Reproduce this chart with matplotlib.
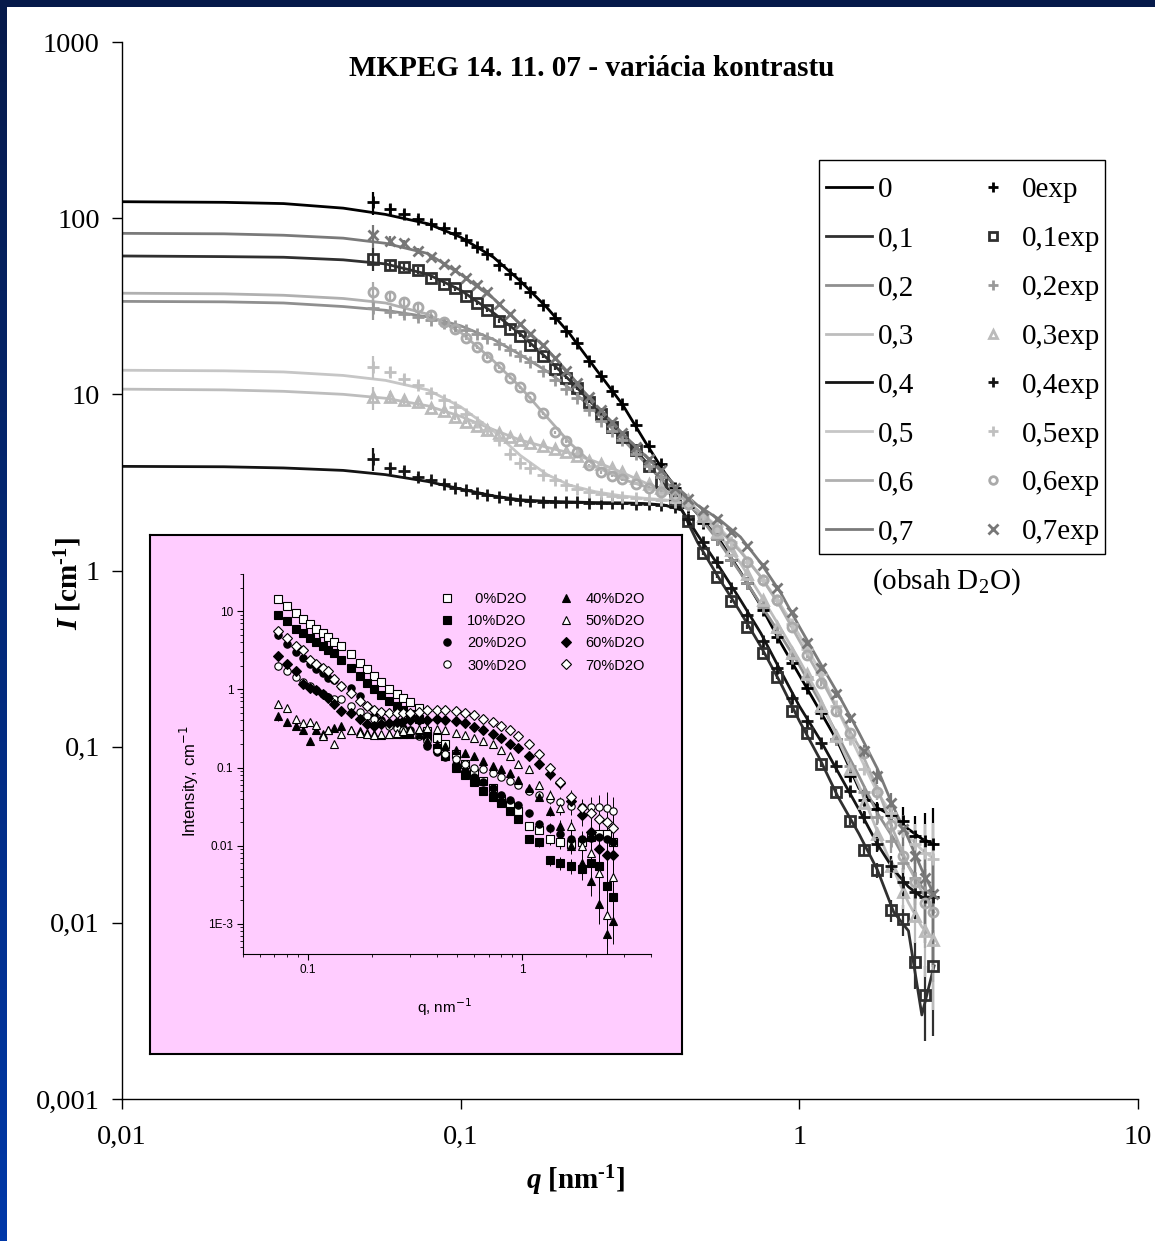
import numpy as np
import matplotlib
matplotlib.use('Agg')
import matplotlib.pyplot as plt
from matplotlib.lines import Line2D
from matplotlib.patches import Rectangle
from matplotlib.colors import LinearSegmentedColormap

plt.rcParams['font.family'] = ['Liberation Serif', 'DejaVu Serif']
plt.rcParams['mathtext.fontset'] = 'custom'
plt.rcParams['mathtext.rm'] = 'Liberation Serif'
plt.rcParams['mathtext.it'] = 'Liberation Serif:italic'
plt.rcParams['mathtext.bf'] = 'Liberation Serif:bold'
plt.rcParams['mathtext.bfit'] = 'Liberation Serif:italic:bold'

# ---------------- main chart data ----------------
series_names = ['0', '0,1', '0,2', '0,3', '0,4', '0,5', '0,6', '0,7']

q_fit = [0.01, 0.02, 0.03, 0.045, 0.06, 0.08, 0.1, 0.125, 0.15, 0.18, 0.21, 0.25, 0.3, 0.35, 0.4,
         0.45, 0.5, 0.58, 0.67, 0.77, 0.88, 1.0, 1.15, 1.3, 1.5, 1.7, 1.9, 2.1, 2.3, 2.5]

fit_0 = [124, 123, 121, 114, 105, 93, 78, 60, 44, 31, 22, 14, 8.8, 5.4, 3.6,
         2.65, 2.1, 1.5, 0.98, 0.63, 0.39, 0.255, 0.16, 0.106, 0.058, 0.045, 0.04, 0.034, 0.03, 0.028]
fit_01 = [61, 60.5, 60, 58, 55, 48, 39, 29, 22, 16, 12, 8.5, 5.8, 4.2, 3.1,
          2.2, 1.45, 0.9, 0.58, 0.37, 0.23, 0.14, 0.085, 0.052, 0.032, 0.02, 0.0115, 0.009, 0.003, 0.0057]
fit_02 = [33.7, 33.5, 33, 31.5, 30, 27.5, 24.5, 20.5, 16.8, 13.5, 10.8, 8.0, 5.6, 4.1, 3.2,
          2.65, 2.1, 1.45, 0.97, 0.64, 0.43, 0.29, 0.18, 0.115, 0.068, 0.042, 0.03, 0.021, 0.016, 0.014]
fit_03 = [10.7, 10.6, 10.4, 10.0, 9.5, 8.6, 7.5, 6.3, 5.5, 5.0, 4.65, 4.15, 3.6, 3.15, 2.85,
          2.6, 2.2, 1.6, 1.1, 0.72, 0.47, 0.31, 0.19, 0.11, 0.06, 0.033, 0.02, 0.013, 0.0095, 0.008]
fit_04 = [3.9, 3.88, 3.82, 3.7, 3.5, 3.2, 2.9, 2.65, 2.52, 2.47, 2.45, 2.43, 2.42, 2.4, 2.35,
          2.2, 1.6, 1.05, 0.68, 0.44, 0.27, 0.17, 0.11, 0.072, 0.044, 0.028, 0.02, 0.016, 0.014, 0.014]
fit_05 = [13.7, 13.6, 13.4, 12.8, 12, 10.6, 8.5, 6.2, 4.5, 3.5, 3.05, 2.8, 2.65, 2.57, 2.52,
          2.45, 2.2, 1.75, 1.3, 0.92, 0.64, 0.43, 0.27, 0.16, 0.09, 0.055, 0.04, 0.031, 0.026, 0.023]
fit_06 = [37.5, 37.2, 36.5, 35, 33, 28.5, 22.5, 15.5, 11, 7.4, 5.3, 3.9, 3.3, 3.0, 2.8,
          2.6, 2.2, 1.7, 1.28, 0.92, 0.62, 0.4, 0.25, 0.16, 0.1, 0.058, 0.033, 0.021, 0.015, 0.0115]
fit_07 = [82, 81.5, 80, 77, 72, 63, 48, 35, 25, 18, 13, 8.6, 6.0, 4.5, 3.5,
          2.8, 2.35, 1.95, 1.55, 1.1, 0.75, 0.48, 0.3, 0.2, 0.12, 0.075, 0.045, 0.03, 0.02, 0.0145]

q_exp = [0.055, 0.062, 0.068, 0.075, 0.082, 0.089, 0.096, 0.104, 0.112, 0.12,
         0.13, 0.14, 0.15, 0.16, 0.175, 0.19, 0.205, 0.22, 0.24, 0.26,
         0.28, 0.30, 0.33, 0.36, 0.39, 0.43, 0.47, 0.52, 0.57, 0.63,
         0.70, 0.78, 0.86, 0.95, 1.05, 1.16, 1.28, 1.41, 1.55, 1.70,
         1.86, 2.03, 2.2, 2.35, 2.48]

exp_0 = [123, 113, 106, 99, 93, 88, 82, 75, 69, 63,
         54, 48, 43, 38, 32, 27, 23, 19.5, 15.5, 12.7,
         10.5, 8.8, 6.7, 5.1, 4.0, 2.95, 2.3, 1.85, 1.5, 1.15,
         0.85, 0.6, 0.42, 0.3, 0.215, 0.155, 0.11, 0.068, 0.05, 0.044,
         0.041, 0.038, 0.031, 0.029, 0.028]
exp_01 = [59, 54, 53, 50.5, 46, 42.5, 40, 36, 33, 30,
          26, 23.5, 21.5, 19, 16.5, 14, 12.4, 10.8, 9.1, 7.7,
          6.5, 5.7, 4.8, 3.9, 3.2, 2.5, 1.9, 1.25, 0.92, 0.67,
          0.48, 0.34, 0.25, 0.16, 0.12, 0.08, 0.055, 0.038, 0.026, 0.02,
          0.0118, 0.0105, 0.006, 0.0039, 0.0057]
exp_02 = [31, 29.5, 28.5, 27.5, 26.5, 25.5, 24.5, 23.2, 22, 20.8,
          19.2, 17.8, 16.5, 15.2, 13.5, 12, 10.7, 9.5, 8.2, 7.1,
          6.2, 5.5, 4.6, 3.9, 3.4, 2.85, 2.4, 1.9, 1.5, 1.15,
          0.85, 0.62, 0.45, 0.32, 0.25, 0.16, 0.11, 0.078, 0.055, 0.04,
          0.029, 0.022, 0.018, 0.015, 0.014]
exp_03 = [9.6, 9.7, 9.3, 9.0, 8.4, 8.0, 7.4, 7.0, 6.6, 6.3,
          6.0, 5.7, 5.5, 5.3, 5.1, 4.9, 4.7, 4.45, 4.2, 4.0,
          3.8, 3.6, 3.35, 3.1, 2.95, 2.75, 2.5, 2.05, 1.65, 1.3,
          0.95, 0.68, 0.48, 0.34, 0.26, 0.17, 0.115, 0.075, 0.048, 0.032,
          0.021, 0.015, 0.011, 0.009, 0.008]
exp_04 = [4.3, 3.8, 3.65, 3.4, 3.25, 3.1, 2.95, 2.85, 2.75, 2.68,
          2.6, 2.55, 2.5, 2.48, 2.46, 2.45, 2.44, 2.44, 2.43, 2.42,
          2.42, 2.41, 2.4, 2.38, 2.35, 2.3, 1.95, 1.45, 1.12, 0.8,
          0.56, 0.4, 0.28, 0.19, 0.14, 0.105, 0.078, 0.056, 0.04, 0.028,
          0.021, 0.017, 0.015, 0.014, 0.014]
exp_05 = [14.3, 13.4, 12.2, 11.3, 10.2, 9.3, 8.5, 7.7, 7.0, 6.3,
          5.5, 4.6, 4.1, 3.8, 3.5, 3.25, 3.05, 2.9, 2.8, 2.72,
          2.66, 2.62, 2.58, 2.55, 2.52, 2.45, 2.35, 2.1, 1.8, 1.45,
          1.12, 0.88, 0.68, 0.5, 0.36, 0.26, 0.17, 0.11, 0.075, 0.055,
          0.042, 0.033, 0.028, 0.025, 0.023]
exp_06 = [38, 36.3, 33.5, 31.3, 28.2, 25.7, 23.5, 21, 18.5, 16.3,
          14.3, 12.4, 11, 9.6, 7.8, 6.1, 5.4, 4.7, 3.95, 3.6,
          3.45, 3.3, 3.1, 2.95, 2.8, 2.65, 2.4, 2.0, 1.7, 1.42,
          1.12, 0.88, 0.68, 0.48, 0.33, 0.23, 0.16, 0.12, 0.092, 0.055,
          0.036, 0.024, 0.017, 0.013, 0.0115]
exp_07 = [80, 74.5, 72, 65, 60, 55, 50.5, 45.5, 41.5, 38,
          32.5, 28.5, 25, 22, 19, 16, 13.6, 11.6, 9.6, 8.1,
          7.0, 6.0, 5.0, 4.3, 3.7, 2.95, 2.55, 2.2, 1.95, 1.65,
          1.38, 1.07, 0.8, 0.58, 0.39, 0.28, 0.2, 0.145, 0.095, 0.068,
          0.048, 0.034, 0.024, 0.018, 0.0145]

# relative error of the measured points
rel_err = [0.15, 0.07, 0.05, 0.04, 0.035, 0.03, 0.03, 0.03, 0.025, 0.025,
           0.025, 0.02, 0.02, 0.02, 0.02, 0.02, 0.02, 0.02, 0.02, 0.02,
           0.02, 0.02, 0.02, 0.02, 0.02, 0.02, 0.02, 0.02, 0.02, 0.02,
           0.025, 0.025, 0.03, 0.03, 0.035, 0.04, 0.05, 0.06, 0.08, 0.1,
           0.14, 0.2, 0.3, 0.45, 0.6]

fits = [fit_0, fit_01, fit_02, fit_03, fit_04, fit_05, fit_06, fit_07]
exps = [exp_0, exp_01, exp_02, exp_03, exp_04, exp_05, exp_06, exp_07]

line_colors = ['#000000', '#303030', '#8f8f8f', '#bdbdbd', '#141414', '#c6c6c6', '#b0b0b0', '#7a7a7a']
mark_colors = ['#000000', '#303030', '#999999', '#bbbbbb', '#141414', '#c0c0c0', '#aaaaaa', '#777777']
markers = ['+', 's', '+', '^', '+', '+', 'o', 'x']

# ---------------- inset data ----------------
inset_labels = ['\u20070%D2O', '10%D2O', '20%D2O', '30%D2O', '40%D2O', '50%D2O', '60%D2O', '70%D2O']
q_in = [0.073, 0.08, 0.088, 0.095, 0.103, 0.11, 0.118, 0.125, 0.133, 0.143,
        0.16, 0.175, 0.19, 0.205, 0.22, 0.24, 0.26, 0.28, 0.30, 0.33,
        0.36, 0.40, 0.44, 0.49, 0.54, 0.6, 0.66, 0.73, 0.8, 0.88, 0.96,
        1.08, 1.2, 1.35, 1.5, 1.7, 1.9, 2.1, 2.3, 2.5, 2.65]
in_0 = [14.4, 11.6, 9.5, 8.0, 6.9, 6.0, 5.2, 4.7, 4.1, 3.6,
        2.85, 2.2, 1.85, 1.5, 1.25, 1.0, 0.88, 0.78, 0.68, 0.58,
        0.29, 0.24, 0.2, 0.15, 0.11, 0.085, 0.068, 0.055, 0.04, 0.033, 0.028,
        0.018, 0.016, 0.012, 0.011, 0.0105, 0.011, 0.013, 0.014, 0.014, 0.011]
in_10 = [9.0, 7.6, 6.0, 5.3, 4.6, 4.0, 3.6, 3.2, 2.9, 2.4,
         1.9, 1.5, 1.2, 1.0, 0.85, 0.72, 0.62, 0.55, 0.48, 0.42,
         0.25, 0.18, 0.14, 0.1, 0.08, 0.065, 0.05, 0.042, 0.035, 0.028, 0.022,
         0.012, 0.011, 0.0065, 0.006, 0.0055, 0.005, 0.006, 0.0055, 0.003, 0.0022]
in_20 = [5.0, 3.8, 3.0, 2.5, 2.1, 1.8, 1.6, 1.4, 1.3, 1.1,
         1.05, 0.82, 0.62, 0.46, 0.4, 0.36, 0.34, 0.32, 0.3, 0.28,
         0.19, 0.16, 0.135, 0.11, 0.091, 0.075, 0.065, 0.055, 0.045, 0.038, 0.033,
         0.026, 0.019, 0.017, 0.014, 0.012, 0.012, 0.0125, 0.013, 0.012, 0.011]
in_30 = [2.0, 1.7, 1.45, 1.25, 1.1, 0.97, 0.88, 0.8, 0.76, 0.75,
         0.62, 0.52, 0.45, 0.42, 0.38, 0.34, 0.32, 0.3, 0.28, 0.25,
         0.22, 0.17, 0.15, 0.13, 0.11, 0.1, 0.095, 0.085, 0.075, 0.068, 0.06,
         0.05, 0.045, 0.04, 0.036, 0.032, 0.031, 0.031, 0.031, 0.03, 0.028]
in_40 = [0.45, 0.38, 0.34, 0.3, 0.22, 0.3, 0.27, 0.3, 0.32, 0.34,
         0.3, 0.29, 0.28, 0.27, 0.26, 0.27, 0.27, 0.27, 0.27, 0.27,
         0.22, 0.2, 0.19, 0.17, 0.155, 0.14, 0.12, 0.105, 0.095, 0.085, 0.07,
         0.055, 0.042, 0.028, 0.018, 0.01, 0.006, 0.0035, 0.0018, 0.00075, 0.0011]
in_50 = [0.65, 0.57, 0.42, 0.37, 0.38, 0.35, 0.25, 0.3, 0.2, 0.27,
         0.3, 0.28, 0.27, 0.26, 0.27, 0.27, 0.28, 0.29, 0.3, 0.31,
         0.32, 0.31, 0.3, 0.28, 0.26, 0.24, 0.22, 0.2, 0.17, 0.14, 0.11,
         0.095, 0.06, 0.045, 0.03, 0.018, 0.01, 0.008, 0.0045, 0.0013, 0.004]
in_60 = [2.7, 2.1, 1.7, 1.16, 1.05, 0.98, 0.88, 0.78, 0.65, 0.53,
         0.5, 0.42, 0.36, 0.34, 0.36, 0.37, 0.38, 0.39, 0.4, 0.4,
         0.41, 0.42, 0.41, 0.39, 0.37, 0.33, 0.3, 0.27, 0.24, 0.2, 0.18,
         0.14, 0.11, 0.082, 0.064, 0.037, 0.025, 0.015, 0.009, 0.0075, 0.0075]
in_70 = [5.6, 4.6, 3.6, 3.2, 2.4, 2.1, 1.9, 1.7, 1.35, 1.1,
         0.9, 0.7, 0.62, 0.55, 0.52, 0.5, 0.5, 0.5, 0.5, 0.52,
         0.55, 0.55, 0.55, 0.53, 0.5, 0.47, 0.42, 0.38, 0.34, 0.3, 0.25,
         0.2, 0.15, 0.1, 0.065, 0.042, 0.03, 0.026, 0.022, 0.02, 0.017]
in_rel_err = [0.12, 0.08, 0.08, 0.06, 0.06, 0.06, 0.06, 0.06, 0.06, 0.06,
              0.05, 0.05, 0.05, 0.05, 0.05, 0.05, 0.05, 0.05, 0.05, 0.05,
              0.04, 0.04, 0.04, 0.04, 0.04, 0.04, 0.04, 0.04, 0.04, 0.04, 0.04,
              0.1, 0.12, 0.15, 0.18, 0.22, 0.28, 0.35, 0.45, 0.6, 0.5]
inset_series = [in_0, in_10, in_20, in_30, in_40, in_50, in_60, in_70]
inset_markers = ['s', 's', 'o', 'o', '^', '^', 'D', 'D']
inset_faces = ['white', 'black', 'black', 'white', 'black', 'white', 'black', 'white']

# ---------------- figure ----------------
W, H = 1155, 1241
fig = plt.figure(figsize=(W / 100, H / 100), dpi=100)
fig.patch.set_facecolor('white')


def fx(px):
    return px / W


def fy(py):
    return 1 - py / H


# blue frame strips of the slide
strip = fig.add_axes([0, 0, fx(7), 1])
cmap = LinearSegmentedColormap.from_list('strip', ['#061a4a', '#0038a8'])
strip.imshow(np.linspace(0, 1, 256).reshape(-1, 1), aspect='auto', cmap=cmap)
strip.axis('off')
fig.add_artist(Rectangle((0, fy(7)), 1, 7 / H, transform=fig.transFigure,
                         facecolor='#061a4a', edgecolor='none'))

ax = fig.add_axes([fx(122), fy(1099), (1138 - 122) / W, (1099 - 42) / H])
ax.set_xscale('log')
ax.set_yscale('log')

for fit, c in zip(fits, line_colors):
    ax.plot(q_fit, fit, color=c, lw=2.0, zorder=2)

for vals, c, m in zip(exps, mark_colors, markers):
    vals = np.array(vals)
    err = vals * np.array(rel_err)
    if m == '+':
        kw = dict(ms=9, mew=2.0)
    elif m == 'x':
        kw = dict(ms=7, mew=2.0)
    else:
        kw = dict(ms=6.5, mew=2.0, mfc='none')
    ax.errorbar(q_exp, vals, yerr=err, fmt=m, color=c, ecolor=c, elinewidth=1.6,
                capsize=0, zorder=3, **kw)

ax.set_xlim(0.01, 10)
ax.set_ylim(0.001, 1000)
ax.set_xticks([0.01, 0.1, 1, 10])
ax.set_xticklabels(['0,01', '0,1', '1', '10'])
ax.set_yticks([0.001, 0.01, 0.1, 1, 10, 100, 1000])
ax.set_yticklabels(['0,001', '0,01', '0,1', '1', '10', '100', '1000'])
ax.xaxis.set_minor_locator(matplotlib.ticker.NullLocator())
ax.yaxis.set_minor_locator(matplotlib.ticker.NullLocator())
ax.tick_params(axis='both', direction='out', length=7, width=1, labelsize=20.5)
ax.tick_params(axis='x', pad=12)
ax.tick_params(axis='y', pad=9)
for s in ['top', 'right']:
    ax.spines[s].set_visible(False)
for s in ['left', 'bottom']:
    ax.spines[s].set_linewidth(1)

fig.text(fx(592), fy(68), 'MKPEG 14. 11. 07 - variácia kontrastu', ha='center', va='center',
         fontsize=21, fontweight='bold')
fig.text(fx(576), fy(1181), '$\\mathbfit{q}\\ \\mathbf{[nm^{\u20101}]}$', ha='center', va='center',
         fontsize=21)
fig.text(fx(68), fy(583), '$\\mathbfit{I}\\ \\mathbf{[cm^{\u20101}]}$', ha='center', va='center',
         rotation=90, fontsize=21)

# legend: frame drawn as its own rectangle
fig.add_artist(Rectangle((fx(819), fy(554)), 286 / W, 394 / H, transform=fig.transFigure,
                         facecolor='white', edgecolor='black', lw=1))
handles = [Line2D([], [], color=c, lw=2.0) for c in line_colors]
for c, m in zip(mark_colors, markers):
    if m in ('+', 'x'):
        handles.append(Line2D([], [], ls='none', marker=m, color=c, ms=7, mew=2))
    else:
        handles.append(Line2D([], [], ls='none', marker=m, color=c, ms=5.5, mew=2, mfc='none'))
labels = series_names + [n + 'exp' for n in series_names]
leg = fig.legend(handles, labels, ncol=2, loc='upper left', bbox_to_anchor=(fx(817), fy(168)),
                 bbox_transform=fig.transFigure, fontsize=21, frameon=False,
                 borderpad=0.3, labelspacing=0.77,
                 handlelength=1.58, handletextpad=0.2, columnspacing=1.9, borderaxespad=0)
fig.text(fx(946), fy(582), r'(obsah D$_2$O)', ha='center', va='center', fontsize=21)

# ---------------- inset ----------------
box = fig.add_axes([fx(150), fy(1054), 532 / W, 519 / H])
box.set_facecolor('#ffccff')
box.set_xticks([])
box.set_yticks([])
for s in box.spines.values():
    s.set_linewidth(1.5)

sans = ['Liberation Sans', 'DejaVu Sans']
iax = fig.add_axes([fx(243), fy(954), 408 / W, 380 / H])
iax.set_facecolor('none')
iax.set_xscale('log')
iax.set_yscale('log')
for vals, m, fc, lab in zip(inset_series, inset_markers, inset_faces, inset_labels):
    vals = np.array(vals)
    err = vals * np.array(in_rel_err)
    ms = 5.3 if m != 'D' else 4.8
    iax.errorbar(q_in, vals, yerr=err, fmt=m, ms=ms, mfc=fc, mec='black', mew=0.8,
                 ecolor='black', elinewidth=0.7, capsize=0, label=lab)
iax.set_xlim(0.05, 4.0)
iax.set_ylim(4.1e-4, 30)
iax.set_xticks([0.1, 1])
iax.set_xticklabels(['0.1', '1'])
iax.set_yticks([0.001, 0.01, 0.1, 1, 10])
iax.set_yticklabels(['1E-3', '0.01', '0.1', '1', '10'])
iax.tick_params(which='major', direction='out', length=4, width=0.8, labelsize=8.5, pad=3)
iax.tick_params(which='minor', direction='out', length=2, width=0.6)
for t in iax.get_xticklabels() + iax.get_yticklabels():
    t.set_family(sans)
for s in ['top', 'right']:
    iax.spines[s].set_visible(False)
for s in ['left', 'bottom']:
    iax.spines[s].set_linewidth(0.8)
iax.set_ylabel('Intensity, cm$^{-1}$', family=sans, fontsize=12, math_fontfamily='dejavusans')
iax.yaxis.set_label_coords(-0.103, 0.455)
iax.set_xlabel('q, nm$^{-1}$', family=sans, fontsize=11, math_fontfamily='dejavusans')
iax.xaxis.set_label_coords(0.494, -0.11)

ih, il = iax.get_legend_handles_labels()
ih = [h[0] for h in ih]
ileg = iax.legend(ih, il, ncol=2, loc='upper left', bbox_to_anchor=(fx(440), fy(592)),
                  bbox_transform=fig.transFigure, frameon=False, borderpad=0, borderaxespad=0,
                  handlelength=1.0, handletextpad=0.85, columnspacing=2.2, labelspacing=0.56,
                  prop={'family': sans, 'size': 10.5})

fig.savefig('out.png', dpi=100)
